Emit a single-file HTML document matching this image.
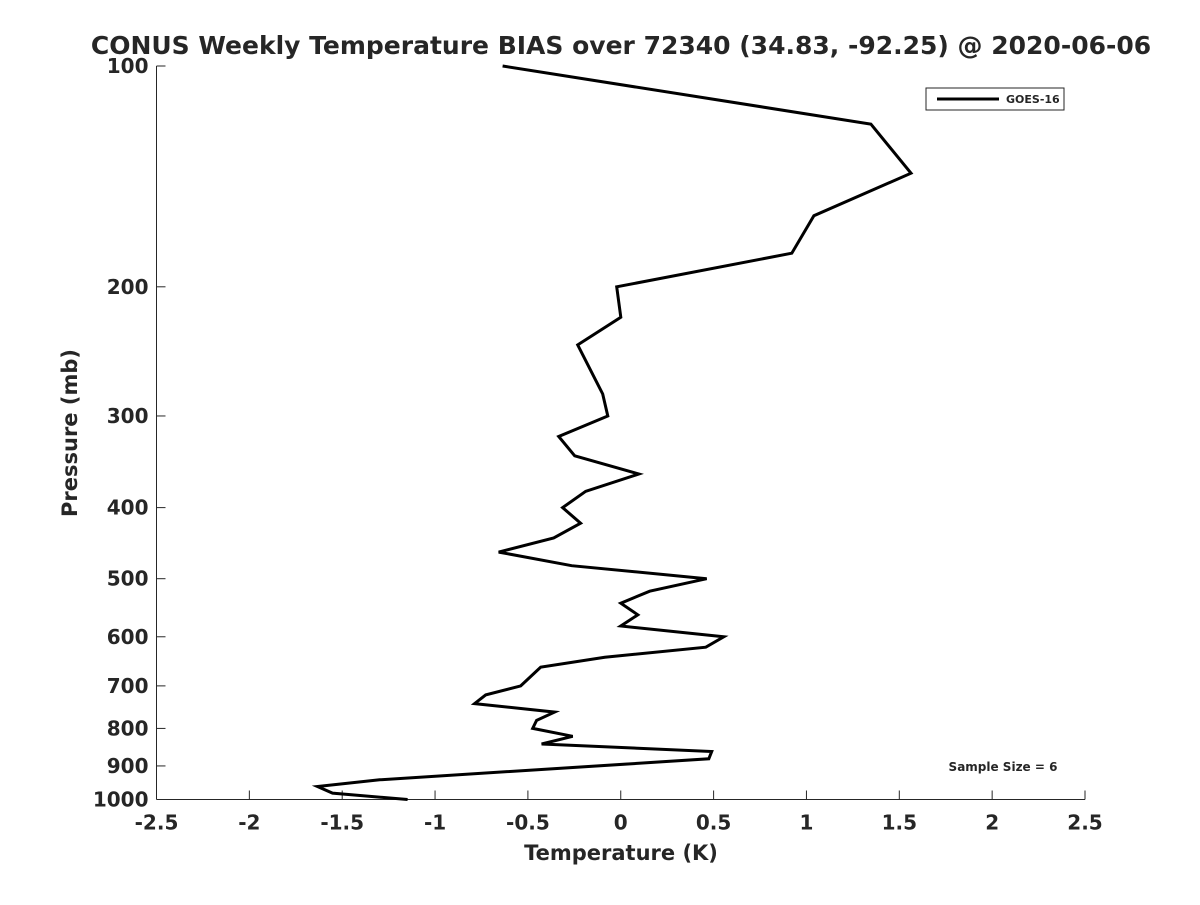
<!DOCTYPE html>
<html><head><meta charset="utf-8"><style>
html,body{margin:0;padding:0;background:#fff;}
svg text{font-family:"DejaVu Sans","Liberation Sans",sans-serif;font-weight:bold;fill:#262626;}
</style></head><body>
<svg id="chart" width="1200" height="900" viewBox="0 0 1200 900" xmlns="http://www.w3.org/2000/svg">
<rect width="1200" height="900" fill="#fff"/>
<text x="621" y="54" text-anchor="middle" font-size="25">CONUS Weekly Temperature BIAS over 72340 (34.83, -92.25) @ 2020-06-06</text>
<g id="axes"></g>
<g id="series"></g>
<text x="621" y="860" text-anchor="middle" font-size="21">Temperature (K)</text>
<text transform="translate(77,433) rotate(-90)" text-anchor="middle" font-size="21">Pressure (mb)</text>
<g>
<rect x="926" y="88" width="138" height="22" fill="#fff" stroke="#262626" stroke-width="1"/>
<line x1="937" y1="99" x2="999" y2="99" stroke="#000" stroke-width="3"/>
<text x="1006" y="103" font-size="11">GOES-16</text>
</g>
<text x="1003" y="771" text-anchor="middle" font-size="12">Sample Size = 6</text>
</svg>
<script>
const xTicks = [-2.5,-2,-1.5,-1,-0.5,0,0.5,1,1.5,2,2.5];
const xTickLabels = ["-2.5","-2","-1.5","-1","-0.5","0","0.5","1","1.5","2","2.5"];
const yTicks = [100,200,300,400,500,600,700,800,900,1000];
const yTickLabels = ["100","200","300","400","500","600","700","800","900","1000"];
const pressures = [100,120,140,160,180,200,220,240,280,300,320,340,360,380,400,420,440,460,480,500,520,540,560,580,600,620,640,660,700,720,740,760,780,800,820,840,860,880,940,960,980,1000];
const biasValues = [-0.636,1.347,1.563,1.04,0.921,-0.022,0,-0.232,-0.097,-0.07,-0.334,-0.248,0.097,-0.189,-0.313,-0.216,-0.361,-0.657,-0.264,0.463,0.156,0,0.092,0,0.555,0.458,-0.086,-0.431,-0.539,-0.727,-0.787,-0.356,-0.453,-0.474,-0.259,-0.426,0.49,0.474,-1.298,-1.633,-1.552,-1.148];

const NS="http://www.w3.org/2000/svg";
const L=156.5,R=1085,T=66,B=799.5;
function xs(v){return L+(v-(-2.5))/5*(R-L);}
function ys(p){return T+(Math.log10(p)-2)/1*(B-T);}
const axes=document.getElementById('axes');
function mk(tag,attrs,parent){const e=document.createElementNS(NS,tag);for(const k in attrs)e.setAttribute(k,attrs[k]);parent.appendChild(e);return e;}
const xa=mk('line',{x1:L,y1:B,x2:R,y2:B,stroke:'#262626','stroke-width':1},axes);


const ya=mk('line',{x1:L,y1:T,x2:L,y2:B,stroke:'#262626','stroke-width':1},axes);


xTicks.forEach((v,i)=>{
  const x=xs(v);
  const t=mk('line',{x1:x,y1:B,x2:x,y2:B-9,stroke:'#262626','stroke-width':1},axes);
  
  
  const tx=mk('text',{x:x,y:B+30,'text-anchor':'middle','font-size':20},axes);
  tx.textContent=xTickLabels[i];
  
  
});
yTicks.forEach((p,i)=>{
  const y=ys(p);
  const t=mk('line',{x1:L,y1:y,x2:L+9,y2:y,stroke:'#262626','stroke-width':1},axes);
  
  
  const tx=mk('text',{x:L-8,y:y+7,'text-anchor':'end','font-size':20},axes);
  tx.textContent=yTickLabels[i];
  
  
});
const pts=pressures.map((p,i)=>xs(biasValues[i]).toFixed(1)+','+ys(p).toFixed(1)).join(' ');
const line=mk('polyline',{points:pts,fill:'none',stroke:'#000','stroke-width':3,'stroke-linejoin':'miter'},document.getElementById('series'));


</script>
</body></html>
